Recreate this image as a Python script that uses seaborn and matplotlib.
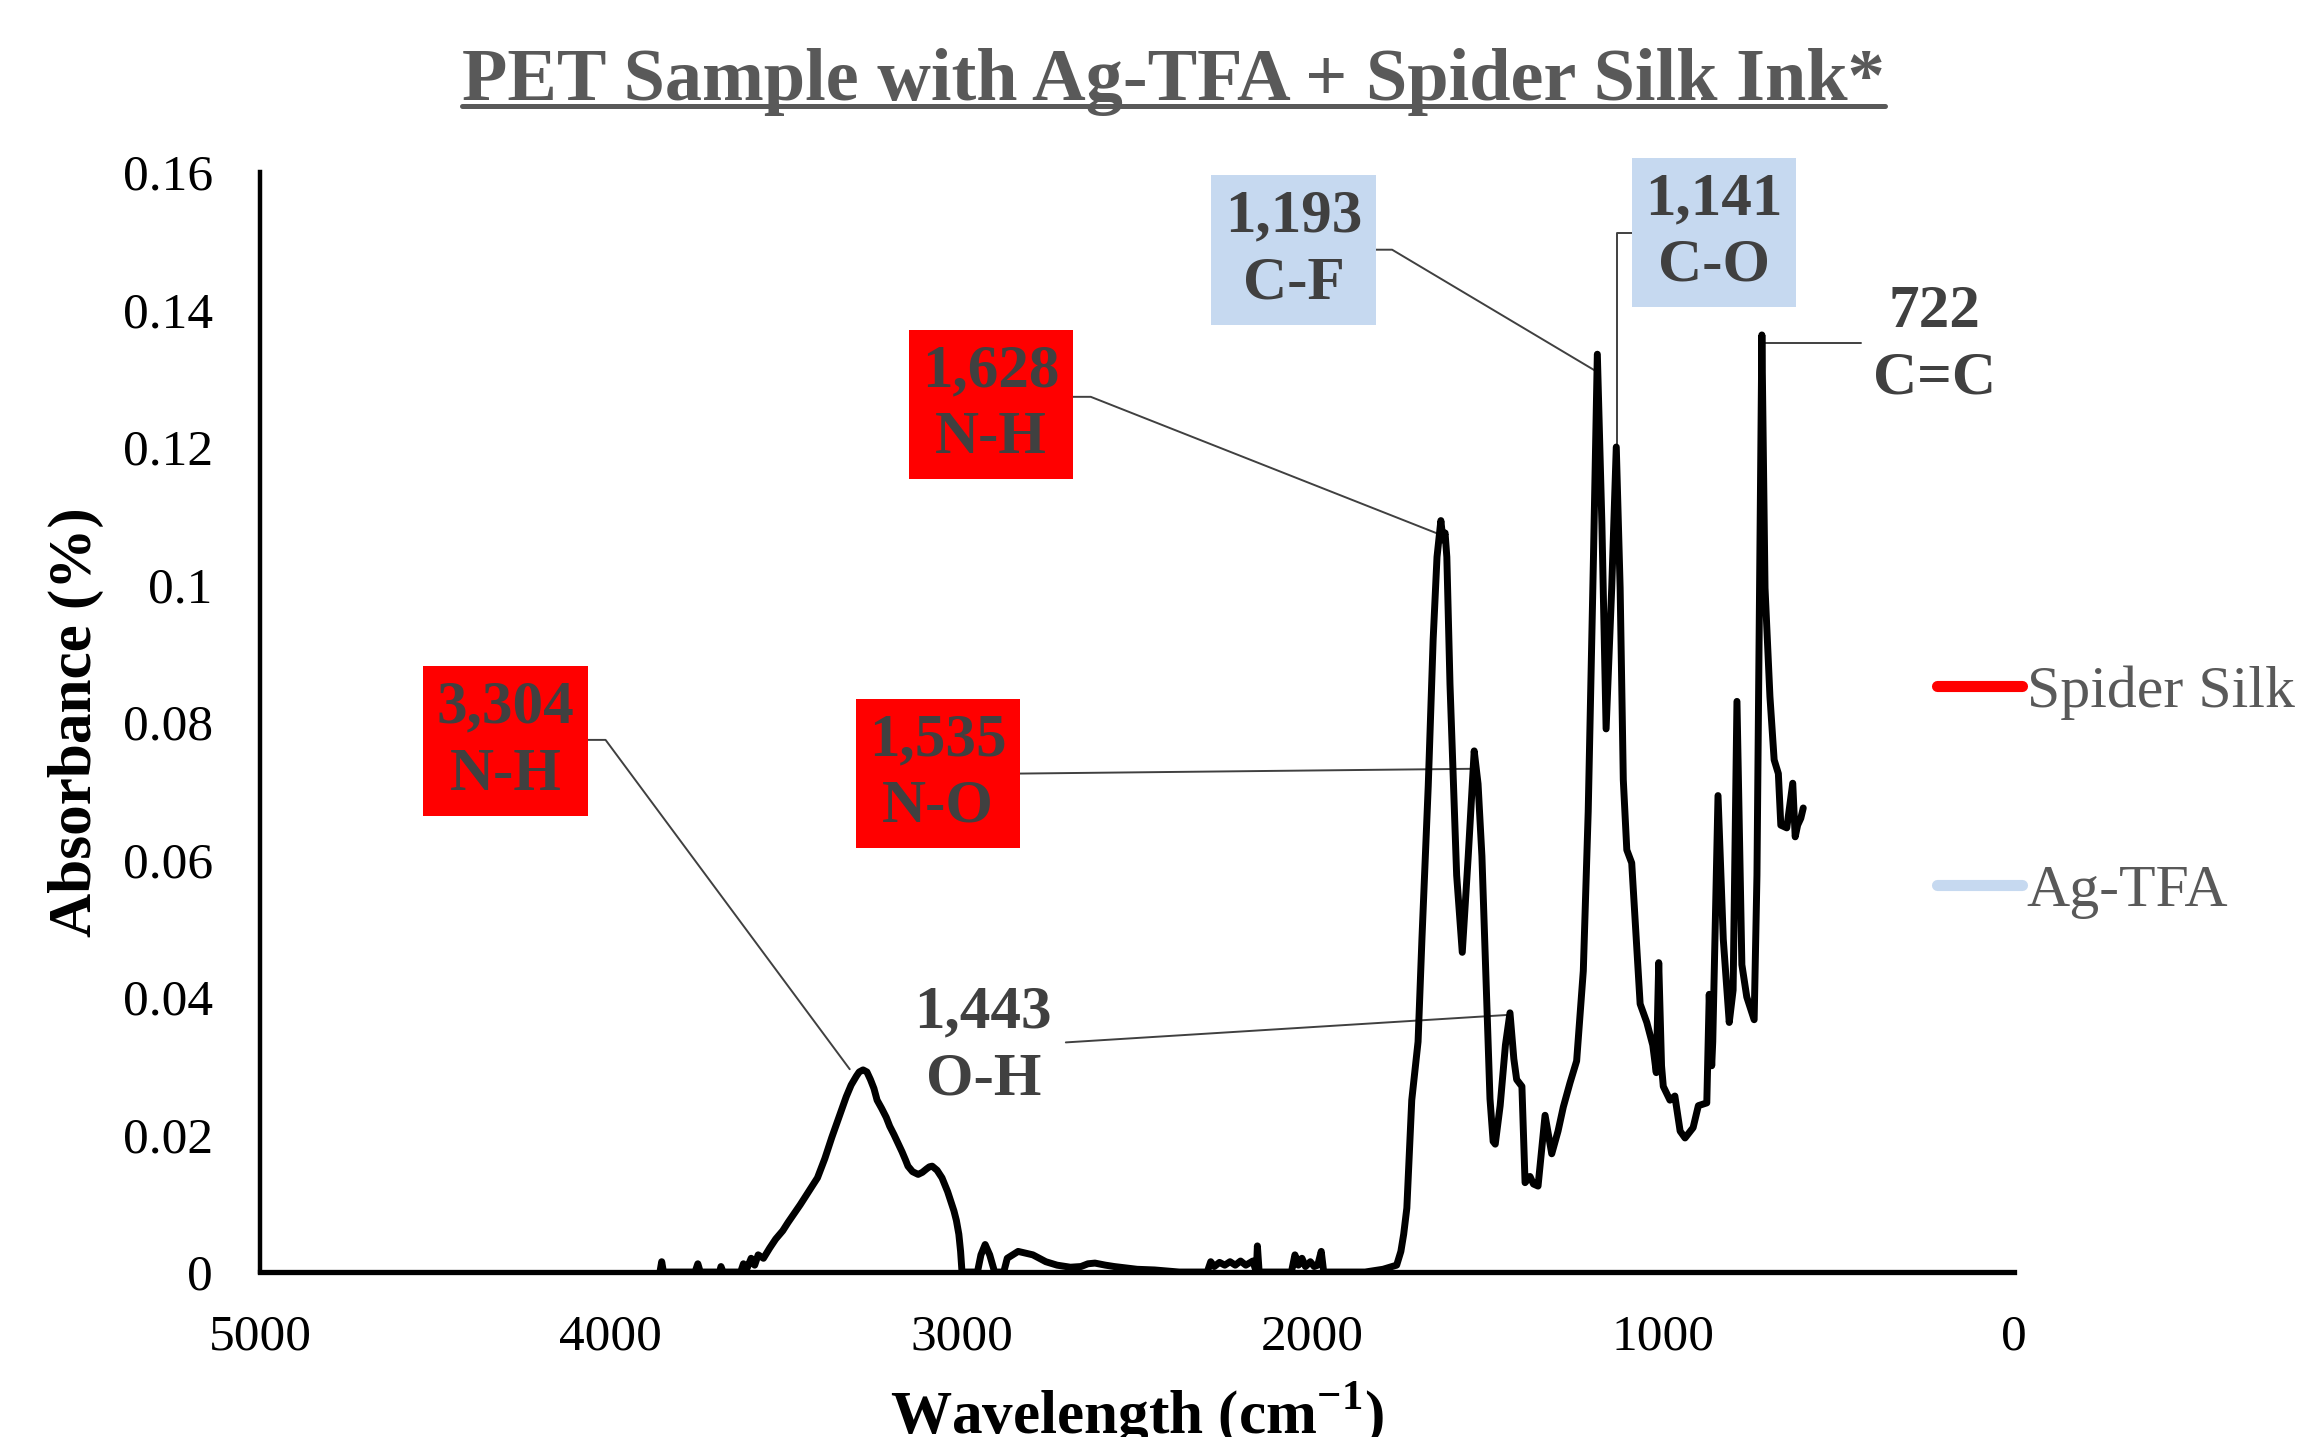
import matplotlib
matplotlib.use('Agg')
import matplotlib.pyplot as plt
import seaborn as sns
from matplotlib.lines import Line2D

# FTIR spectrum (wavenumber in cm-1, absorbance)
wavenumber = [3860, 3855, 3850, 3760, 3752, 3745, 3690, 3686, 3680, 3630,
              3622, 3612, 3600, 3590, 3580, 3565, 3547, 3530, 3510, 3495,
              3479, 3460, 3445, 3430, 3411, 3390, 3370, 3350, 3329, 3315,
              3300, 3292, 3281, 3270, 3260, 3250, 3241, 3228, 3215, 3205,
              3193, 3182, 3170, 3160, 3153, 3140, 3124, 3112, 3100, 3092,
              3084, 3070, 3056, 3040, 3022, 3015, 3008, 3003, 2999, 2955,
              2945, 2933, 2920, 2906, 2880, 2870, 2839, 2797, 2760, 2728,
              2690, 2660, 2640, 2620, 2590, 2565, 2500, 2450, 2380, 2300,
              2290, 2280, 2265, 2250, 2235, 2220, 2205, 2190, 2170, 2160,
              2157, 2152, 2060, 2050, 2040, 2030, 2020, 2006, 1995, 1985,
              1975, 1968, 1850, 1799, 1760, 1748, 1740, 1731, 1717, 1699,
              1688, 1670, 1656, 1645, 1634, 1628, 1622, 1617, 1608, 1589,
              1573, 1556, 1539, 1528, 1517, 1503, 1494, 1485, 1479, 1465,
              1450, 1437, 1426, 1418, 1403, 1394, 1380, 1370, 1357, 1337,
              1318, 1300, 1285, 1266, 1247, 1228, 1214, 1199, 1188, 1175,
              1163, 1147, 1134, 1123, 1114, 1104, 1090, 1066, 1047, 1030,
              1020, 1013, 1005, 1000, 981, 967, 952, 938, 915, 900,
              876, 869, 862, 859, 844, 829, 812, 801, 790, 776,
              762, 741, 733, 719, 710, 696, 684, 672, 665, 648,
              631, 624, 617, 608, 601]
absorbance = [0.0, 0.0015, 0.0, 0.0, 0.0012, 0.0, 0.0, 0.0008, 0.0, 0.0,
              0.0012, 0.0005, 0.0020, 0.0010, 0.0025, 0.0020, 0.0035, 0.0048, 0.0060, 0.0072,
              0.0084, 0.0098, 0.0110, 0.0122, 0.0137, 0.0165, 0.0196, 0.0225, 0.0255, 0.0272,
              0.0285, 0.0291, 0.0294, 0.0291, 0.0280, 0.0267, 0.0250, 0.0238, 0.0225, 0.0212,
              0.0200, 0.0188, 0.0175, 0.0163, 0.0154, 0.0146, 0.0142, 0.0145, 0.0150, 0.0153,
              0.0154, 0.0148, 0.0137, 0.0117, 0.0089, 0.0075, 0.0055, 0.0030, 0.0, 0.0,
              0.0025, 0.0040, 0.0025, 0.0, 0.0, 0.0020, 0.0030, 0.0025, 0.0015, 0.0010,
              0.0007, 0.0008, 0.0012, 0.0013, 0.0010, 0.0008, 0.0004, 0.0003, 0.0, 0.0,
              0.0015, 0.0008, 0.0014, 0.0010, 0.0015, 0.0010, 0.0016, 0.0010, 0.0016, 0.0,
              0.0038, 0.0, 0.0, 0.0025, 0.0010, 0.0020, 0.0008, 0.0015, 0.0008, 0.0010,
              0.0030, 0.0, 0.0, 0.0004, 0.0010, 0.0030, 0.0055, 0.0093, 0.0250, 0.0335,
              0.0484, 0.0707, 0.0920, 0.1040, 0.1093, 0.1065, 0.1075, 0.1040, 0.0855, 0.0577,
              0.0465, 0.0605, 0.0758, 0.0710, 0.0605, 0.0390, 0.0252, 0.0190, 0.0186, 0.0242,
              0.0330, 0.0377, 0.0310, 0.0280, 0.0270, 0.0130, 0.0139, 0.0128, 0.0125, 0.0228,
              0.0172, 0.0205, 0.0240, 0.0275, 0.0307, 0.0438, 0.0670, 0.1040, 0.1335, 0.1088,
              0.0790, 0.0995, 0.1200, 0.0995, 0.0716, 0.0614, 0.0595, 0.0390, 0.0363, 0.0330,
              0.0290, 0.0450, 0.0300, 0.0270, 0.0250, 0.0256, 0.0205, 0.0195, 0.0210, 0.0242,
              0.0246, 0.0404, 0.0300, 0.0335, 0.0693, 0.0484, 0.0363, 0.0410, 0.0830, 0.0447,
              0.0400, 0.0367, 0.0577, 0.1363, 0.0995, 0.0837, 0.0745, 0.0725, 0.0650, 0.0646,
              0.0711, 0.0633, 0.0650, 0.0660, 0.0675]

x_ticks = [5000, 4000, 3000, 2000, 1000, 0]
y_ticks = [0, 0.02, 0.04, 0.06, 0.08, 0.1, 0.12, 0.14, 0.16]
y_tick_labels = ['0', '0.02', '0.04', '0.06', '0.08', '0.1', '0.12', '0.14', '0.16']

# peak labels
peak_labels = ['3,304\nN-H', '1,628\nN-H', '1,535\nN-O', '1,443\nO-H',
               '1,193\nC-F', '1,141\nC-O', '722\nC=C']
peak_group = ['Spider Silk', 'Spider Silk', 'Spider Silk', None,
              'Ag-TFA', 'Ag-TFA', None]

legend_labels = ['Spider Silk', 'Ag-TFA']
group_colors = {'Spider Silk': '#FF0000', 'Ag-TFA': '#C6D9F0'}

# label placement (data coords) and leader lines
label_pos = [(4300, 0.0772), (2917, 0.1262), (3068, 0.0725), (2938, 0.0329),
             (2054, 0.1487), (855, 0.1512), (226, 0.1348)]
leaders = [
    [(4070, 0.0774), (4015, 0.0774), (3319, 0.0295)],
    [(2686, 0.1273), (2632, 0.1273), (1643, 0.1074)],
    [(2837, 0.0725), (1538, 0.0732)],
    [(2703, 0.0334), (1442, 0.0374)],
    [(1827, 0.1487), (1773, 0.1487), (1194, 0.1311)],
    [(1081, 0.1512), (1132, 0.1512), (1132, 0.1204)],
    [(436, 0.1352), (712, 0.1352)],
]

sns.set_theme(style='white')
plt.rcParams['font.family'] = ['Liberation Serif', 'DejaVu Serif']
plt.rcParams['mathtext.fontset'] = 'custom'
plt.rcParams['mathtext.rm'] = 'Liberation Serif'
plt.rcParams['mathtext.bf'] = 'Liberation Serif:bold'

fig = plt.figure(figsize=(23.05, 14.37), dpi=100)
ax = fig.add_axes([0.1128, 0.1148, 0.8738 - 0.1128, 0.8803 - 0.1148])

sns.lineplot(x=wavenumber, y=absorbance, ax=ax, color='black', linewidth=5,
             sort=False, estimator=None, zorder=3)

ax.set_xlim(5000, 0)
ax.set_ylim(0, 0.16)
ax.set_xticks(x_ticks)
ax.set_xticklabels([str(t) for t in x_ticks])
ax.set_yticks(y_ticks)
ax.set_yticklabels(y_tick_labels)
ax.tick_params(axis='both', length=0, labelsize=37, colors='black')
ax.tick_params(axis='y', pad=34)
ax.tick_params(axis='x', pad=30)

for side in ['top', 'right']:
    ax.spines[side].set_visible(False)
ax.spines['left'].set_linewidth(3.2)
ax.spines['bottom'].set_linewidth(3.8)
ax.spines['left'].set_color('black')
ax.spines['bottom'].set_color('black')

ax.set_ylabel('Absorbance (%)', fontsize=44, fontweight='bold', color='black')
ax.set_xlabel(r'Wavelength (cm$^{\mathbf{-1}}$)', fontsize=44, fontweight='bold', color='black')
ax.yaxis.set_label_coords(-0.105, 0.5)
ax.xaxis.set_label_coords(0.5, -0.129)
ax.yaxis.label.set_va('center')
ax.xaxis.label.set_va('center')

# peak annotations
for label, grp, pos, path in zip(peak_labels, peak_group, label_pos, leaders):
    xs = [p[0] for p in path]
    ys = [p[1] for p in path]
    ax.plot(xs, ys, color='#404040', linewidth=1.4, zorder=2, clip_on=False)
    box = None
    if grp is not None:
        box = dict(boxstyle='square,pad=0.22', facecolor=group_colors[grp], edgecolor='none')
    ax.text(pos[0], pos[1], label, ha='center', va='center', fontsize=44,
            fontweight='bold', color='#404040', linespacing=1.25, bbox=box, zorder=4)

# legend
handles = [Line2D([0], [0], color=group_colors[g], linewidth=8) for g in legend_labels]
leg = fig.legend(handles, legend_labels, loc='center left',
                 bbox_to_anchor=(1937 / 2305, 1 - 792 / 1437), frameon=False,
                 fontsize=43, handlelength=1.42, handletextpad=0.08,
                 labelspacing=2.42, borderpad=0, borderaxespad=0)
for t in leg.get_texts():
    t.set_color('#595959')

# underlined title
title = fig.text(0.509, 1 - 100 / 1437, 'PET Sample with Ag-TFA + Spider Silk Ink*',
                 ha='center', va='baseline', fontsize=53.5, fontweight='bold', color='#595959')
fig.canvas.draw()
bb = title.get_window_extent().transformed(fig.transFigure.inverted())
fig.add_artist(Line2D([bb.x0, bb.x1], [1 - 106 / 1437] * 2, color='#595959',
                      linewidth=3.6, transform=fig.transFigure))

fig.savefig('out.png', dpi=100)
